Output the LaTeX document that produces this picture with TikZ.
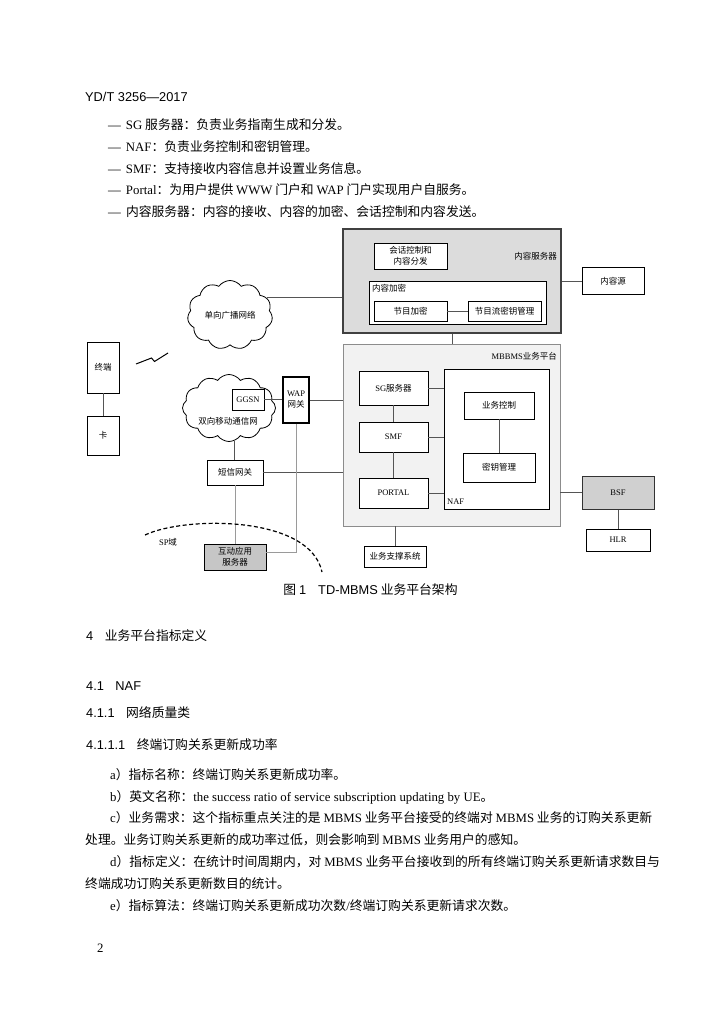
\documentclass[tikz,border=0pt]{standalone}
\usepackage{fontspec}
\setmainfont{Noto Sans CJK SC}
\newfontfamily\serif{Liberation Serif}
\newfontfamily\arial{Liberation Sans}
\usetikzlibrary{shapes.symbols}
\newcommand\E[1]{{\serif #1}}
\newcommand\A[1]{{\arial #1}}
\definecolor{csfill}{HTML}{DCDCDC}
\definecolor{mbfill}{HTML}{F2F2F2}
\definecolor{bsffill}{HTML}{D0D0D0}
\definecolor{iapfill}{HTML}{C6C6C6}
\definecolor{lnkgray}{HTML}{555555}
\definecolor{lightlnk}{HTML}{9A9A9A}
\tikzset{
  box/.style={draw,fill=white,line width=0.8pt,inner sep=0pt,align=center,font=\fontsize{8.5}{11}\selectfont},
  lbl/.style={inner sep=0pt,align=center,font=\fontsize{8.5}{11}\selectfont},
  lnk/.style={draw=lnkgray,line width=0.7pt},
  body/.style={anchor=west,inner sep=0pt,font=\fontsize{12.8}{15}\selectfont},
}
\begin{document}
\begin{tikzpicture}[x=1pt,y=-1pt]
  \useasboundingbox (0,0) rectangle (724,1024);

  % page text above the figure
  \node (hdr) [body] at (85,97) {\A{YD/T 3256—2017}};
  \node (b1) [body] at (108,125) {\E{—}\hspace{5pt}\E{SG} 服务器：负责业务指南生成和分发。};
  \node (b2) [body] at (108,147) {\E{—}\hspace{5pt}\E{NAF}：负责业务控制和密钥管理。};
  \node (b3) [body] at (108,169) {\E{—}\hspace{5pt}\E{SMF}：支持接收内容信息并设置业务信息。};
  \node (b4) [body] at (108,190) {\E{—}\hspace{5pt}\E{Portal}：为用户提供 \E{WWW} 门户和 \E{WAP} 门户实现用户自服务。};
  \node (b5) [body] at (108,212) {\E{—}\hspace{5pt}内容服务器：内容的接收、内容的加密、会话控制和内容发送。};

  % content server
  \node (cs) [box,fill=csfill,draw=black!75,line width=1.2pt,minimum width=218,minimum height=104] at (452,281) {};
  \node (cslbl) [lbl,anchor=east] at (557,256) {内容服务器};
  \node (sess) [box,minimum width=73,minimum height=26] at (410.5,256) {会话控制和\\内容分发};
  \node (enc) [box,minimum width=177,minimum height=43] at (457.5,302.5) {};
  \node (enclbl) [lbl,anchor=west] at (372,288) {内容加密};
  \node (penc) [box,minimum width=73,minimum height=20] at (410.5,311) {节目加密};
  \node (pkey) [box,minimum width=73,minimum height=20] at (504.5,311) {节目流密钥管理};
  \node (src) [box,minimum width=62,minimum height=27] at (613,281) {内容源};
  \draw[lnk] (penc.east) -- (pkey.west);
  \draw[lnk] (cs.east) -- (src.west);

  % MBBMS service platform
  \node (mb) [box,fill=mbfill,draw=black!45,minimum width=217,minimum height=182] at (451.5,435) {};
  \node (mblbl) [lbl,anchor=east] at (557,356) {\E{MBBMS}业务平台};
  \node (sg) [box,minimum width=69,minimum height=34] at (393.5,388) {\E{SG}服务器};
  \node (smf) [box,minimum width=69,minimum height=30] at (393.5,437) {\E{SMF}};
  \node (portal) [box,minimum width=69,minimum height=30] at (393.5,493) {\E{PORTAL}};
  \node (naf) [box,minimum width=105,minimum height=140] at (496.5,439) {};
  \node (naflbl) [lbl,anchor=west] at (447,502) {\E{NAF}};
  \node (ctl) [box,minimum width=70,minimum height=27] at (499,405.5) {业务控制};
  \node (kmg) [box,minimum width=72,minimum height=29] at (499,467.5) {密钥管理};
  \draw[lnk] (sg.south) -- (smf.north);
  \draw[lnk] (smf.south) -- (portal.north);
  \draw[lnk] (sg.east) -- (sg.east -| naf.west);
  \draw[lnk] (smf.east) -- (smf.east -| naf.west);
  \draw[lnk] (portal.east) -- (portal.east -| naf.west);
  \draw[lnk] (ctl.south) -- (kmg.north);
  \draw[lnk] (cs.south) -- (cs.south |- mb.north);

  \node (bsf) [box,fill=bsffill,draw=black!80,line width=1pt,minimum width=72,minimum height=33] at (618,492.5) {\E{BSF}};
  \node (hlr) [box,minimum width=64,minimum height=22] at (618,540) {\E{HLR}};
  \node (bss) [box,minimum width=62,minimum height=21] at (395,556.5) {业务支撑系统};
  \draw[lnk] (bsf.west) -- (bsf.west -| mb.east);
  \draw[lnk] (bsf.south) -- (hlr.north);
  \draw[lnk] (bss.north) -- (bss.north |- mb.south);

  % networks and terminal
  \node (bc) [cloud,cloud puffs=11,cloud puff arc=110,cloud ignores aspect,draw,fill=white,line width=0.8pt,inner sep=0pt,minimum width=85,minimum height=69,font=\fontsize{8.5}{11}\selectfont] at (230,315) {单向广播网络};
  \draw[lnk] (bc.25) -- (bc.25 -| cs.west);
  \node (mob) [cloud,cloud puffs=12,cloud puff arc=110,cloud ignores aspect,draw,fill=white,line width=0.8pt,inner sep=0pt,minimum width=93,minimum height=67] at (229,408) {};
  \node (moblbl) [lbl] at (228,421) {双向移动通信网};
  \node (ggsn) [box,minimum width=32,minimum height=21] at (248,399.5) {\E{GGSN}};
  \node (wap) [box,line width=1.2pt,minimum width=26,minimum height=46] at (296,400) {\E{WAP}\\网关};
  \node (sms) [box,minimum width=56,minimum height=25] at (235,472.5) {短信网关};
  \node (iap) [box,fill=iapfill,minimum width=62,minimum height=26] at (235,557) {互动应用\\服务器};
  \draw[lnk] (ggsn.east) -- (ggsn.east -| wap.west);
  \draw[lnk] (wap.east) -- (wap.east -| mb.west);
  \draw[lnk] (mob.-80) -- (mob.-80 |- sms.north);
  \draw[lnk] (sms.east) -- (sms.east -| mb.west);
  \draw[lnk,draw=lightlnk] (sms.south) -- (iap.north);
  \draw[lnk,draw=lightlnk] (wap.south) |- (iap.9);

  \node (term) [box,minimum width=32,minimum height=51] at (103,367.5) {终端};
  \node (card) [box,minimum width=32,minimum height=39] at (103,435.5) {卡};
  \draw[lnk] (term.south) -- (card.north);
  \draw[line width=1pt] (136,364) -- (151.5,358) -- (154.5,361.5) -- (168,353);

  % SP domain
  \draw[line width=1.2pt,dash pattern=on 4pt off 2.5pt] (145,535) .. controls (185,516) and (310,515) .. (322,572);
  \node (splbl) [lbl] at (168,542) {\E{SP}域};

  \node (cap) [body,anchor=center] at (370.5,590) {图 \A{1}\hspace{12pt}\A{TD-MBMS} 业务平台架构};

  % text below the figure
  \node (s4) [body] at (86,636) {\A{4}\hspace{11.5pt}业务平台指标定义};
  \node (s41) [body] at (86,686) {\A{4.1}\hspace{11.5pt}\A{NAF}};
  \node (s411) [body] at (86,713) {\A{4.1.1}\hspace{11.5pt}网络质量类};
  \node (s4111) [body] at (86,745) {\A{4.1.1.1}\hspace{11.5pt}终端订购关系更新成功率};
  \node (pa) [body] at (110,775) {\E{a}）指标名称：终端订购关系更新成功率。};
  \node (pb) [body] at (110,797) {\E{b}）英文名称：\E{the success ratio of service subscription updating by UE}。};
  \node (pc) [body] at (110,818) {\E{c}）业务需求：这个指标重点关注的是 \E{MBMS} 业务平台接受的终端对 \E{MBMS} 业务的订购关系更新};
  \node (pc2) [body] at (85,840) {处理。业务订购关系更新的成功率过低，则会影响到 \E{MBMS} 业务用户的感知。};
  \node (pd) [body] at (110,862) {\E{d}）指标定义：在统计时间周期内，对 \E{MBMS} 业务平台接收到的所有终端订购关系更新请求数目与};
  \node (pd2) [body] at (85,884) {终端成功订购关系更新数目的统计。};
  \node (pe) [body] at (110,906) {\E{e}）指标算法：终端订购关系更新成功次数\E{/}终端订购关系更新请求次数。};
  \node (pg) [body] at (97,948) {\E{2}};
\end{tikzpicture}
\end{document}
